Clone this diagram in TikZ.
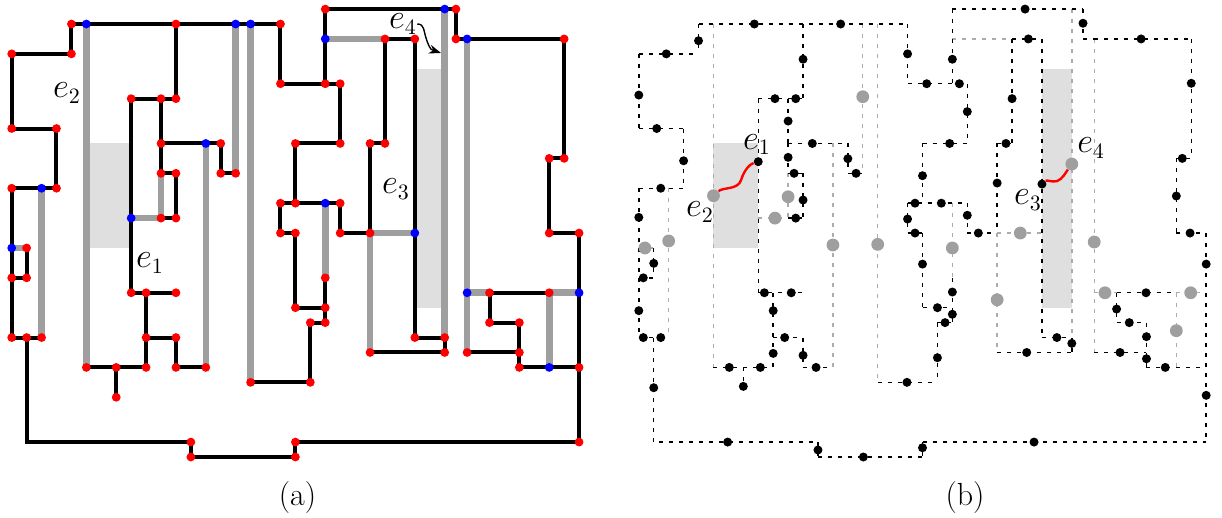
\documentclass[tikz,border=0pt]{standalone}
\usepackage{fontspec}
\usepackage{tikz}
\usetikzlibrary{arrows.meta, positioning, calc, backgrounds}
\tikzstyle{rv} = [circle, fill=red, inner sep=0pt, minimum size=4.4pt]
\tikzstyle{bv} = [rv, fill=blue]
\tikzstyle{bedge} = [line width=2pt, black]
\tikzstyle{gedge} = [line width=3.3pt, gray!75]
\tikzstyle{shade} = [fill=gray!25]
\tikzstyle{bdash} = [line width=0.7pt, black, dash pattern=on 2pt off 3pt]
\tikzstyle{gdash} = [bdash, gray!65]
\tikzstyle{bdot} = [circle, fill=black, inner sep=0pt, minimum size=4.5pt]
\tikzstyle{gdot} = [circle, fill=gray!75, inner sep=0pt, minimum size=6.4pt]
\tikzstyle{lab} = [inner sep=0pt, font=\fontsize{16}{19}\selectfont]
\tikzstyle{squig} = [red, line width=1.2pt]

% grid points of the graph (x/y, y downwards)
\def\redpts{21/0, 4/1, 11/1, 18/1, 25/2, 27/2, 37/2, 0/3, 4/3, 18/5, 21/5, 22/5,
  8/6, 10/6, 11/6, 0/8, 3/8, 10/9, 14/9, 19/9, 22/9, 24/9, 25/9, 36/10, 37/10,
  10/11, 11/11, 14/11, 15/11, 0/12, 3/12, 18/13, 19/13, 22/13, 10/14, 11/14,
  18/15, 19/15, 22/15, 24/15, 36/15, 38/15, 1/16, 0/18, 1/18, 21/18, 8/19, 9/19,
  11/19, 32/19, 36/19, 19/20, 21/20, 20/21, 21/21, 32/21, 34/21, 0/22, 1/22, 2/22,
  9/22, 11/22, 27/22, 29/22, 24/23, 29/23, 34/23, 5/24, 7/24, 9/24, 11/24, 13/24,
  34/24, 38/24, 16/25, 20/25, 7/26, 12/29, 19/29, 38/29, 12/30, 19/30}
\def\bluepts{29/0, 5/1, 15/1, 16/1, 21/2, 13/9, 2/12, 21/13, 8/14, 27/15, 0/16,
  38/19, 36/24}
\def\specpts{q0/29.75/0, q2/29.75/2, r2/30.5/2, r19/30.5/19, r23/30.5/23}

\def\blackedges{4-1/18-1, 4-1/4-3, 0-3/4-3, 0-3/0-8, 0-8/3-8, 3-8/3-12, 0-12/3-12,
  0-12/0-22, 1-16/1-18, 0-18/1-18, 0-22/2-22, 12-29/12-30, 12-30/19-30,
  19-29/19-30, 19-29/38-29, 38-15/38-29, 36-15/38-15, 36-10/36-15, 36-10/37-10,
  37-2/37-10, r2/37-2, q2/r2, q0/q2, 29-0/q0, 21-0/29-0, 21-0/21-2, 21-2/21-5,
  18-5/22-5, 18-1/18-5, 22-5/22-9, 19-9/22-9, 19-9/19-13, 18-13/22-13,
  18-13/18-15, 18-15/19-15, 19-15/19-20, 19-20/21-20, 21-18/21-21, 20-21/21-21,
  20-21/20-25, 16-25/20-25, 22-13/22-15, 22-15/24-15, 24-9/24-15, 24-9/25-9,
  25-2/25-9, 25-2/27-2, 27-2/27-22, 27-22/29-22, 29-22/29-23, 24-23/29-23,
  11-1/11-6, 8-6/11-6, 8-6/8-19, 8-19/11-19, 9-19/9-24, 9-22/11-22, 11-22/11-24,
  11-24/13-24, 5-24/9-24, 7-24/7-26, 10-6/10-9, 10-9/14-9, 14-9/14-11,
  14-11/15-11, 10-9/10-11, 10-11/11-11, 11-11/11-14, 10-14/11-14, 32-19/36-19,
  32-19/32-21, 32-21/34-21, 34-21/34-24, r23/34-23, 34-24/38-24}
\def\grayedges{5-1/5-24, 15-1/15-11, 16-1/16-25, 2-12/2-22, 0-16/1-16,
  10-11/10-14, 8-14/10-14, 13-9/13-24, 21-2/25-2, 21-13/21-18, 24-15/27-15,
  24-15/24-23, 29-0/29-22, r2/r23, r19/32-19, 36-19/38-19, 36-19/36-24}

\begin{document}
\begin{tikzpicture}[x=7.465pt, y=-7.465pt]
  \useasboundingbox (-0.784,-0.6075) rectangle (81.06,34.02);

  % (a) the graph
  \foreach \x/\y in \redpts {\node[rv] (\x-\y) at (\x,\y) {};}
  \foreach \x/\y in \bluepts {\node[bv] (\x-\y) at (\x,\y) {};}
  \node[rv] (q0) at (29.75,0) {};
  \node[rv] (q2) at (29.75,2) {};
  \node[bv] (r2) at (30.5,2) {};
  \node[bv] (r19) at (30.5,19) {};
  \node[rv] (r23) at (30.5,23) {};
  \begin{scope}[on background layer]
    \fill[shade] (5,9) rectangle (8,16);
    \fill[shade] (27,4) rectangle (29,20);
    \foreach \a/\b in \grayedges {\draw[gedge] (\a.center) -- (\b.center);}
    \foreach \a/\b in \blackedges {\draw[bedge] (\a.center) -- (\b.center);}
    \draw[bedge] (1-22.center) |- (12-29.center);
  \end{scope}

  \node[lab] (e2l) at (3.70,5.62) {$e_2$};
  \node[lab] (e1l) at (9.26,17.01) {$e_1$};
  \node[lab] (e3l) at (25.74,12.05) {$e_3$};
  \node[lab] (e4l) at (26.21,1.0) {$e_4$};
  \coordinate (e4tip) at (28.75,2.94);
  \draw[line width=0.7pt, -{Stealth[length=6pt, width=4.5pt]}] (e4l.east)
    .. controls +(0.5,0) and +(-0.25,-0.7) .. (27.8,2.1)
    .. controls +(0.25,0.7) and +(-0.6,-0.2) .. (e4tip);
  \node[lab] (capa) at (19.14,32.71) {(a)};

  % (b) the same graph, shifted
  \begin{scope}[shift={(42,0)}]
    \foreach \x/\y in \redpts {\coordinate (b\x-\y) at (\x,\y);}
    \foreach \x/\y in \bluepts {\coordinate (b\x-\y) at (\x,\y);}
    \foreach \n/\x/\y in \specpts {\coordinate (b\n) at (\x,\y);}
    \fill[shade] (5,9) rectangle (8,16);
    \fill[shade] (27,4) rectangle (29,20);
    \foreach \a/\b in \grayedges {\draw[gdash] (b\a) -- (b\b);}
    \foreach \a/\b in \blackedges {\draw[bdash] (b\a) -- (b\b);}
    \draw[bdash] (b1-22) |- (b12-29);

    \foreach \x/\y [count=\k] in {7.74/1, 13.52/1, 4/2.12, 1.84/3, 11/3.36, 18/3,
      19.28/5, 0/5.76, 9.12/6, 10.51/6, 10/7.5, 1.2/8, 11.62/9, 3/10.16, 10/9.93,
      14/10.02, 10.4/11, 14.55/11, 1.47/12, 19/11.16, 11/12.79, 18.5/13, 0/13.95,
      10.51/14, 18/14.06, 18.5/15, 25.87/0, 29.75/0.95, 26.09/2, 33.64/2, 21/3.36,
      21.47/5, 25/6, 37/4.97, 22/6.87, 20.82/9, 24.59/9, 24/11.65, 36.4/10,
      36/12.52, 20.26/13, 22/13.81, 22.74/15, 36.92/15, 1/17.03, 0.3/18, 19/17.08,
      8.41/19, 10.21/19, 0/20.2, 9/20.2, 0.3/22, 1.47/22, 9.77/22, 9/23.06,
      11/23.19, 6.06/24, 8.14/24, 11.87/24, 7/25.27, 1/25.36, 17.96/25, 5.95/29,
      12/29.53, 15.04/30, 19/29.38, 38/17.08, 21/18.95, 20/20, 21/20.44, 20.51/21,
      20/23.35, 25.98/23, 28/22, 29/22.39, 33.97/19, 32/20.09, 32.85/21, 34/21.94,
      32.23/23, 34/23.42, 35.26/24, 38/25.87, 26.47/29}
      {\node[bdot] (d\k) at (\x,\y) {};}
    \foreach \x/\y [count=\k] in {15/5.87, 10/12.57, 9.12/14, 2/15.53, 25.55/15,
      30.5/15.6, 0.41/16, 13/15.8, 16/15.76, 21/16, 24/19.47, 31.22/19, 36.96/19,
      36/21.54}
      {\node[gdot] (g\k) at (\x,\y) {};}
    \node[bdot] (e1d) at (8,10.22) {};
    \node[gdot] (e2d) at (5,12.5) {};
    \node[bdot] (e3d) at (27,11.72) {};
    \node[gdot] (e4d) at (29,10.38) {};
    \draw[squig] (e2d) .. controls (5.65,11.92) and (6.64,12.12) .. (6.85,11.45)
      .. controls (7.05,10.78) and (7.45,10.38) .. (e1d);
    \draw[squig] (e3d) .. controls (27.34,11.42) and (27.68,11.62) .. (28.01,11.52)
      .. controls (28.35,11.42) and (28.62,10.91) .. (e4d);

    \node[lab] (e1r) at (7.92,9.1) {$e_1$};
    \node[lab] (e2r) at (4.10,13.59) {$e_2$};
    \node[lab] (e3r) at (26.07,12.79) {$e_3$};
    \node[lab] (e4r) at (30.29,9.31) {$e_4$};
    \node[lab] (capb) at (21.85,32.7) {(b)};
  \end{scope}
\end{tikzpicture}
\end{document}
